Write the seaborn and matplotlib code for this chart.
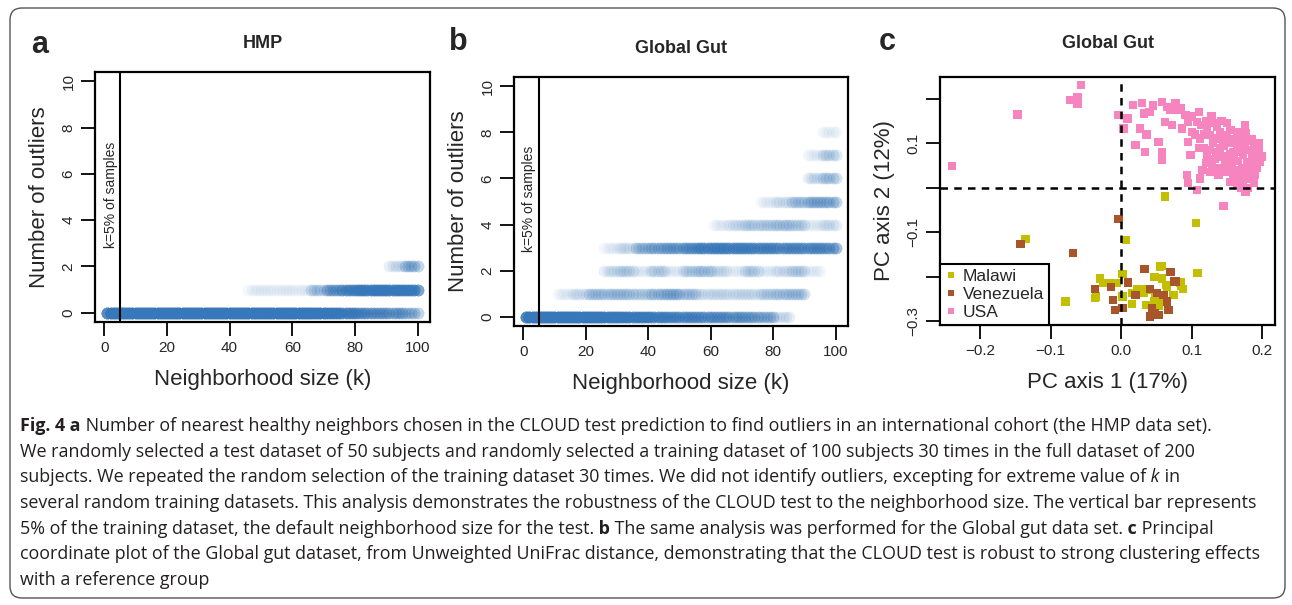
import matplotlib
matplotlib.use("Agg")
import matplotlib.pyplot as plt
import matplotlib.patches as mpatches
import seaborn as sns
import pandas as pd

# ----------------------------------------
# Fig. 4 - CLOUD test robustness (HMP / Global Gut) + PCoA of Global Gut
# ----------------------------------------

W, H = 1292, 605  # output size in pixels

# --- panels a/b: repetitions (out of 30) giving N outliers, per block of 5 k values ---
K_BLOCK = 5  # entries cover k = 1-5, 6-10, ..., 96-100

hmp_out0 = [30, 30, 30, 30, 30, 30, 30, 30, 30, 29, 29, 29, 29, 26, 21, 16, 12, 10, 9, 6]
hmp_out1 = [0, 0, 0, 0, 0, 0, 0, 0, 0, 1, 1, 1, 1, 4, 9, 14, 18, 20, 19, 18]
hmp_out2 = [0, 0, 0, 0, 0, 0, 0, 0, 0, 0, 0, 0, 0, 0, 0, 0, 0, 0, 2, 6]

gg_out0 = [30, 30, 29, 28, 26, 23, 20, 18, 15, 13, 12, 11, 10, 9, 8, 6, 2, 0, 0, 0]
gg_out1 = [0, 0, 1, 2, 4, 4, 4, 3, 5, 6, 4, 2, 2, 2, 2, 3, 4, 4, 0, 0]
gg_out2 = [0, 0, 0, 0, 0, 2, 3, 1, 3, 1, 3, 4, 2, 1, 3, 1, 2, 3, 1, 0]
gg_out3 = [0, 0, 0, 0, 0, 1, 2, 5, 7, 8, 10, 13, 14, 14, 13, 12, 11, 11, 11, 10]
gg_out4 = [0, 0, 0, 0, 0, 0, 0, 0, 0, 0, 0, 0, 1, 2, 3, 3, 4, 3, 1, 2]
gg_out5 = [0, 0, 0, 0, 0, 0, 0, 0, 0, 0, 0, 0, 0, 0, 0, 1, 2, 4, 6, 6]
gg_out6 = [0, 0, 0, 0, 0, 0, 0, 0, 0, 0, 0, 0, 0, 0, 0, 0, 0, 0, 2, 4]
gg_out7 = [0, 0, 0, 0, 0, 0, 0, 0, 0, 0, 0, 0, 0, 0, 0, 0, 0, 0, 1, 3]
gg_out8 = [0, 0, 0, 0, 0, 0, 0, 0, 0, 0, 0, 0, 0, 0, 0, 0, 0, 0, 0, 1]

hmp_bands = [hmp_out0, hmp_out1, hmp_out2]
gg_bands = [gg_out0, gg_out1, gg_out2, gg_out3, gg_out4, gg_out5, gg_out6, gg_out7, gg_out8]

# --- panel c: principal coordinates (unweighted UniFrac) ---
usa_x = [-0.057, -0.073, -0.062, -0.062, -0.147, -0.240,
         -0.004, 0.009, 0.003, 0.017, 0.029, 0.032, 0.027, 0.036, 0.020, 0.034,
         0.058, 0.065, 0.077, 0.081, 0.062, 0.072, 0.053, 0.058, 0.058, 0.091,
         0.086, 0.095, 0.110, 0.107, 0.114, 0.100, 0.095, 0.098, 0.093, 0.095,
         0.107, 0.112, 0.122, 0.126, 0.136, 0.112, 0.117, 0.122, 0.129, 0.126,
         0.138, 0.140, 0.145, 0.148, 0.152, 0.159, 0.164, 0.176, 0.169, 0.173,
         0.178, 0.188, 0.192, 0.197, 0.188, 0.178, 0.169, 0.159, 0.155, 0.164,
         0.173, 0.183, 0.192, 0.176, 0.145, 0.138, 0.150, 0.157, 0.130, 0.135,
         0.140, 0.150, 0.155, 0.160, 0.165, 0.170, 0.180, 0.185, 0.190, 0.195,
         0.200, 0.182, 0.172, 0.162, 0.165, 0.155, 0.145, 0.150, 0.160, 0.170,
         0.180, 0.185, 0.175, 0.190, 0.165, 0.160, 0.145, 0.118, 0.125, 0.132,
         0.120, 0.128, 0.142, 0.100, 0.085, 0.070, 0.045, 0.040, 0.105, 0.110,
         0.135, 0.140, 0.155, 0.175, 0.185, 0.195, 0.175, 0.150, 0.130, 0.120,
         0.115, 0.180, 0.170, 0.188]
usa_y = [0.231, 0.197, 0.204, 0.188, 0.165, 0.049,
         0.163, 0.156, 0.133, 0.186, 0.190, 0.167, 0.133, 0.120, 0.096, 0.081,
         0.193, 0.182, 0.190, 0.175, 0.148, 0.141, 0.103, 0.081, 0.062, 0.163,
         0.133, 0.148, 0.171, 0.148, 0.141, 0.126, 0.103, 0.073, 0.028, 0.010,
         -0.005, 0.021, 0.133, 0.118, 0.137, 0.111, 0.089, 0.070, 0.051, 0.036,
         0.111, 0.089, 0.070, 0.051, 0.100, 0.081, 0.126, 0.122, 0.096, 0.073,
         0.058, 0.092, 0.073, 0.058, 0.044, 0.036, 0.028, 0.021, 0.013, 0.006,
         0.013, 0.021, 0.044, -0.009, -0.041, 0.028, 0.036, 0.058, 0.100, 0.080,
         0.125, 0.118, 0.130, 0.110, 0.090, 0.110, 0.105, 0.075, 0.060, 0.085,
         0.070, 0.050, 0.045, 0.040, 0.060, 0.075, 0.095, 0.060, 0.065, 0.080,
         0.085, 0.030, 0.020, 0.030, 0.015, 0.100, 0.110, 0.120, 0.085, 0.065,
         0.150, 0.160, 0.150, 0.160, 0.180, 0.175, 0.185, 0.170, 0.120, 0.090,
         0.045, 0.035, 0.045, 0.100, 0.110, 0.100, 0.140, 0.145, 0.145, 0.055,
         0.040, 0.000, 0.000, 0.012]

malawi_x = [0.062, 0.106, 0.007, -0.136, -0.079, 0.108, 0.058, -0.030, -0.017,
            -0.036, -0.006, 0.002, 0.002, 0.015, 0.015, 0.031, 0.047, 0.058,
            0.063, 0.074, 0.084, 0.088, 0.036, 0.046, 0.053, 0.041, 0.048,
            0.058, 0.022, -0.025, 0.055, 0.065, 0.085, 0.032, -0.037]
malawi_y = [-0.020, -0.080, -0.118, -0.116, -0.256, -0.192, -0.176, -0.204, -0.215,
            -0.245, -0.215, -0.194, -0.245, -0.237, -0.261, -0.228, -0.201, -0.204,
            -0.219, -0.241, -0.213, -0.228, -0.264, -0.256, -0.266, -0.230, -0.237,
            -0.252, -0.228, -0.215, -0.177, -0.222, -0.221, -0.236, -0.248]

venezuela_x = [-0.004, -0.068, -0.143, 0.033, 0.070, 0.075, 0.010, -0.015, -0.037,
               -0.012, 0.002, 0.020, 0.041, 0.051, 0.060, 0.065, 0.067, 0.041,
               0.048, 0.053, 0.044, -0.009, 0.077]
venezuela_y = [-0.071, -0.147, -0.127, -0.183, -0.189, -0.211, -0.213, -0.224, -0.228,
               -0.252, -0.271, -0.241, -0.228, -0.237, -0.241, -0.256, -0.275, -0.290,
               -0.282, -0.286, -0.271, -0.275, -0.211]

group_order = ["Malawi", "Venezuela", "USA"]
group_colors = ["#C4BE00", "#A9552B", "#F584BF"]

pc1_ticks = [-0.2, -0.1, 0.0, 0.1, 0.2]
pc1_labels = ["\u22120.2", "\u22120.1", "0.0", "0.1", "0.2"]
pc2_ticks = [0.2, 0.1, 0.0, -0.1, -0.2, -0.3]
pc2_labels = ["", "0.1", "", "\u22120.1", "", "\u22120.3"]

# --- caption, one entry per printed line: (text, weight, style) pieces ---
caption_lines = [
    [("Fig. 4", "bold", "normal"), (" a", "bold", "normal"),
     (" Number of nearest healthy neighbors chosen in the CLOUD test prediction to find outliers in an international cohort (the HMP data set).", "normal", "normal")],
    [("We randomly selected a test dataset of 50 subjects and randomly selected a training dataset of 100 subjects 30 times in the full dataset of 200", "normal", "normal")],
    [("subjects. We repeated the random selection of the training dataset 30 times. We did not identify outliers, excepting for extreme value of", "normal", "normal"),
     (" k", "normal", "italic"), (" in", "normal", "normal")],
    [("several random training datasets. This analysis demonstrates the robustness of the CLOUD test to the neighborhood size. The vertical bar represents", "normal", "normal")],
    [("5% of the training dataset, the default neighborhood size for the test.", "normal", "normal"), (" b", "bold", "normal"),
     (" The same analysis was performed for the Global gut data set.", "normal", "normal"), (" c", "bold", "normal"),
     (" Principal", "normal", "normal")],
    [("coordinate plot of the Global gut dataset, from Unweighted UniFrac distance, demonstrating that the CLOUD test is robust to strong clustering effects", "normal", "normal")],
    [("with a reference group", "normal", "normal")],
]

BLUE = "#3778BA"
CAP_SIZE = 12.85


def outlier_frame(bands):
    """Long table: one row per (k, repetition) with its number of outliers."""
    rows = []
    for n_out, hits in enumerate(bands):
        for b, h in enumerate(hits):
            for k in range(b * K_BLOCK + 1, (b + 1) * K_BLOCK + 1):
                rows += [(k, n_out)] * h
    return pd.DataFrame(rows, columns=["k", "outliers"])


def style_axes(ax):
    # R-like boxed axes, outward ticks, y tick labels parallel to the axis
    for sp in ax.spines.values():
        sp.set_visible(True)
        sp.set_color("black")
        sp.set_linewidth(1.6)
    ax.tick_params(direction="out", length=10, width=1.3, labelsize=11, color="black",
                   pad=4, bottom=True, left=True)
    ax.tick_params(axis="y", labelrotation=90)
    for lab in ax.get_yticklabels():
        lab.set_va("center")


def outlier_panel(ax, df, title):
    sns.scatterplot(data=df, x="k", y="outliers", color=BLUE, alpha=0.055, s=72,
                    linewidth=0, legend=False, ax=ax)
    ax.axvline(5, color="black", lw=1.5)
    ax.text(2, 5.1, "k=5% of samples", rotation=90, ha="center", va="center", fontsize=10)
    ax.set_xlim(-2.96, 103.96)
    ax.set_ylim(-0.4, 10.4)
    ax.set_xticks(range(0, 101, 20))
    ax.set_yticks(range(0, 11, 2))
    ax.set_xlabel("Neighborhood size (k)", fontsize=16, labelpad=10)
    ax.set_ylabel("Number of outliers", fontsize=16, labelpad=8)
    ax.set_title(title, fontsize=13, fontweight="bold", pad=17)
    style_axes(ax)


sns.set_style("ticks")
plt.rcParams["font.family"] = ["Liberation Sans", "DejaVu Sans"]

fig = plt.figure(figsize=(W / 100, H / 100), dpi=100)

# background layer in pixel coordinates (y downwards): frame, panel letters, caption
bg = fig.add_axes([0, 0, 1, 1])
bg.set_xlim(0, W)
bg.set_ylim(H, 0)
bg.axis("off")
bg.add_patch(mpatches.FancyBboxPatch((10, 8), 1275, 590, boxstyle="round,pad=0,rounding_size=12",
                                     fill=False, edgecolor="#555555", lw=1.0))
for letter, x, y in [("a", 40, 45), ("b", 458, 42), ("c", 887, 42)]:
    bg.text(x, y, letter, fontsize=22, fontweight="bold", ha="center", va="center")

for i, pieces in enumerate(caption_lines):
    prev = None
    for txt, weight, style in pieces:
        kw = dict(fontsize=CAP_SIZE, fontweight=weight, fontstyle=style, color="#231F20",
                  family=["Open Sans", "DejaVu Sans"], ha="left", va="bottom")
        if prev is None:
            prev = bg.text(20, 435 + i * 25.67, txt, **kw)
        else:
            prev = bg.annotate(txt, xy=(1, 0), xycoords=prev, **kw)


def px_axes(left, top, right, bottom):
    return fig.add_axes([left / W, 1 - bottom / H, (right - left) / W, (bottom - top) / H])


# panel a - HMP
ax_a = px_axes(95, 72, 430, 322)
outlier_panel(ax_a, outlier_frame(hmp_bands), "HMP")

# panel b - Global Gut
ax_b = px_axes(514, 77, 848, 326)
outlier_panel(ax_b, outlier_frame(gg_bands), "Global Gut")

# panel c - PCoA
ax_c = px_axes(940, 77, 1275, 325)
pc_df = pd.DataFrame({
    "PC1": usa_x + malawi_x + venezuela_x,
    "PC2": usa_y + malawi_y + venezuela_y,
    "group": ["USA"] * len(usa_x) + ["Malawi"] * len(malawi_x) + ["Venezuela"] * len(venezuela_x),
})
sns.scatterplot(data=pc_df, x="PC1", y="PC2", hue="group", hue_order=group_order,
                palette=group_colors, marker="s", s=36, linewidth=0, ax=ax_c)
ax_c.axhline(0, color="black", lw=1.8, ls=(0, (3, 2.5)))
ax_c.axvline(0, color="black", lw=1.8, ls=(0, (3, 2.5)))
ax_c.set_xlim(-0.257, 0.218)
ax_c.set_ylim(-0.309, 0.249)
ax_c.set_xticks(pc1_ticks, pc1_labels)
ax_c.set_yticks(pc2_ticks, pc2_labels)
ax_c.set_xlabel("PC axis 1 (17%)", fontsize=16, labelpad=10)
ax_c.set_ylabel("PC axis 2 (12%)", fontsize=16, labelpad=8)
ax_c.set_title("Global Gut", fontsize=13, fontweight="bold", pad=21)
style_axes(ax_c)
sns.move_legend(ax_c, "lower left", bbox_to_anchor=(0, 0), title=None, frameon=True,
                fancybox=False, edgecolor="black", framealpha=1, fontsize=12.5,
                borderaxespad=0, borderpad=0.3, labelspacing=0.15, handlelength=0.7,
                handletextpad=0.3, markerscale=0.75)
ax_c.get_legend().get_frame().set_linewidth(1.5)

fig.savefig("out.png", dpi=100)
